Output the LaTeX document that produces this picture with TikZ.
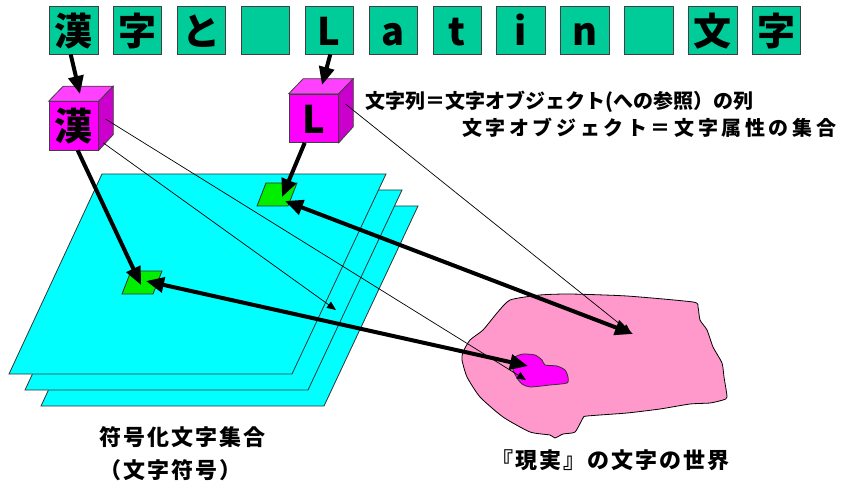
\documentclass[tikz,border=0pt]{standalone}
\usepackage{fontspec}
\newfontfamily\cjk{Noto Sans CJK JP}
\usetikzlibrary{arrows.meta,calc}
\definecolor{topgreen}{HTML}{00CC99}
\definecolor{cubefront}{HTML}{FF00FF}
\definecolor{cubetop}{HTML}{FF40FF}
\definecolor{cubeside}{HTML}{CC00CC}
\definecolor{planecyan}{HTML}{00FFFF}
\definecolor{chipgreen}{HTML}{00EE00}
\definecolor{worldpink}{HTML}{FF99CC}
\definecolor{blobmag}{HTML}{FF00FF}
\begin{document}
\begin{tikzpicture}[x=1pt,y=-1pt,
  topbox/.style={draw=black!75, line width=0.8pt, fill=topgreen, minimum width=48.4pt, minimum height=48pt, inner sep=0pt, text height=36pt, text depth=4pt, font=\cjk\bfseries\fontsize{38}{38}\selectfont},
  cubeface/.style={draw=black!75, line width=0.8pt, fill=cubefront, minimum width=49.3pt, minimum height=48.3pt, inner sep=0pt, text height=35pt, text depth=5pt, font=\cjk\bfseries\fontsize{38}{38}\selectfont},
  facet/.style={draw=black!75, line width=0.8pt},
  plane/.style={draw=black!80, line width=0.8pt, fill=planecyan},
  chip/.style={draw=black!80, line width=0.8pt, fill=chipgreen},
  world/.style={draw=black, line width=0.8pt, fill=worldpink},
  blob/.style={draw=black!80, line width=0.8pt, fill=blobmag},
  bigarrow/.style={line width=4pt, -{Triangle[length=18pt,width=15pt]}},
  bigdouble/.style={line width=4pt, {Triangle[length=18pt,width=15pt]}-{Triangle[length=18pt,width=15pt]}},
  thinarrow/.style={line width=0.7pt, -{Triangle[length=9pt,width=7.5pt]}},
  label/.style={inner sep=0pt, anchor=base west, font=\cjk\bfseries\fontsize{20}{20}\selectfont},
  biglabel/.style={inner sep=0pt, anchor=base west, font=\cjk\bfseries\fontsize{22}{22}\selectfont\addfontfeature{LetterSpace=9}},
]
\useasboundingbox (0,0) rectangle (843,481);

% top row of characters
\foreach \c [count=\i from 0] in {漢,字,と,{},L,a,t,i,n,{},文,字}
  \node[topbox] (t\i) at (73.7+63.9*\i,30) {\c};

% stacked planes (coded character set)
\path[plane] (41,406) -- (324,406) -- (418,206) -- (134,206) -- cycle;
\path[plane] (25,390) -- (308,390) -- (402,190) -- (118,190) -- cycle;
\path[plane] (9,374) -- (292,374) -- (386,174) -- (102,174) -- cycle;

% code points
\path[chip] (266,183) -- (297,183) -- (288,206) -- (257,206) -- cycle;
\path[chip] (131,271) -- (162,271) -- (153,294) -- (122,294) -- cycle;
\coordinate (chipU1) at (282,197);
\coordinate (chipU2) at (285,201);
\coordinate (chipL1) at (141,285);
\coordinate (chipL2) at (146,281);

% real world
\path[world] plot[smooth cycle, tension=0.35] coordinates {
 (510,300) (540,295) (570,294) (627,296) (693,302) (698,307) (700,320) (707,330)
 (713,347) (722,363) (724,377) (727,397) (723,400) (710,403) (690,404) (660,409)
 (627,413) (587,416) (583,418) (575,432) (563,434) (555,438) (550,435) (530,432)
 (503,417) (480,397) (467,377) (462,360) (463,352) (470,340) (483,330) (497,313)};
\path[blob] plot[smooth cycle, tension=0.4] coordinates {
 (515,357) (523,354) (535,355) (542,360) (545,365) (557,366) (565,370) (568,377)
 (567,383) (550,385) (530,387) (522,384) (517,378) (513,370) (513,363)};
\coordinate (worldTip) at (633,334);
\coordinate (worldThin) at (631,333);
\coordinate (blobTip) at (528,366);
\coordinate (blobThin) at (526,380);
\coordinate (planeThin) at (336,310);

% cubes (character objects)
\node[cubeface] (kc) at (73.7,125.8) {漢};
\path[facet, fill=cubetop] (kc.north west) -- ++(14.5,-15) -- ($(kc.north east)+(14.5,-15)$) -- (kc.north east) -- cycle;
\path[facet, fill=cubeside] (kc.north east) -- ++(14.5,-15) -- ++(0,48.3) -- (kc.south east) -- cycle;
\node[cubeface] (lc) at (313.7,118.3) {L};
\path[facet, fill=cubetop] (lc.north west) -- ++(14.5,-15) -- ($(lc.north east)+(14.5,-15)$) -- (lc.north east) -- cycle;
\path[facet, fill=cubeside] (lc.north east) -- ++(14.5,-15) -- ++(0,48) -- (lc.south east) -- cycle;
\coordinate (kcTopTip) at (80,94);
\coordinate (lcTopTip) at (322,85);

% thin reference lines
\draw[thinarrow] ($(kc.east)+(6.7,-6.8)$) -- (blobThin);
\draw[thinarrow] ($(kc.east)+(4.7,17.2)$) -- (planeThin);
\draw[thinarrow] ($(lc.east)+(6.7,-14.3)$) -- (worldThin);

% thick arrows
\draw[bigarrow] ($(t0.south)+(-3,0)$) -- (kcTopTip);
\draw[bigarrow] ($(t4.south)+(1,0)$) -- (lcTopTip);
\draw[bigarrow] ($(kc.south)+(4,0)$) -- (chipL1);
\draw[bigarrow] ($(lc.south)+(-9,0)$) -- (chipU1);
\draw[bigdouble] (chipU2) -- (worldTip);
\draw[bigdouble] (chipL2) -- (blobTip);

% texts
\node[label] (l1) at (365,108.5) {文字列＝文字オブジェクト(への参照）の列};
\node[label] (l2) at (462,136) {\addfontfeature{LetterSpace=18}文字オブジェクト＝文字属性の集合};
\node[biglabel] (cs1) at (99,445) {符号化文字集合};
\node[biglabel] (cs2) at (99,478) {（文字符号）};
\node[biglabel] (rw) at (491,468) {『現実』の文字の世界};
\end{tikzpicture}
\end{document}
